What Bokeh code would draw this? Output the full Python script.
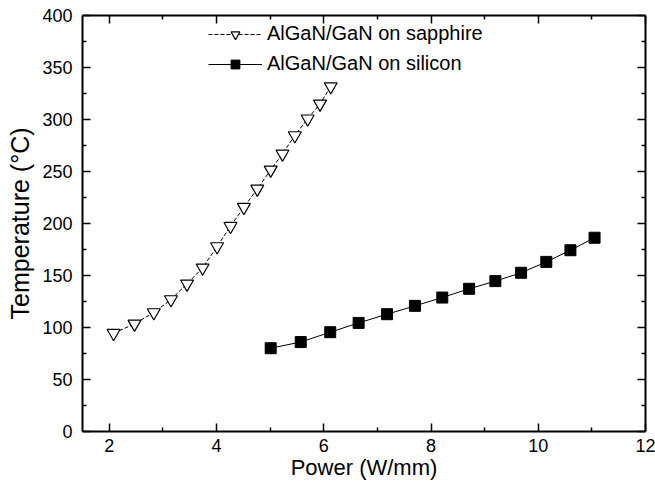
from bokeh.plotting import figure
from bokeh.models import LinearAxis, Range1d, Legend, LegendItem, FixedTicker
from bokeh.embed import file_html
from bokeh.resources import INLINE

# Data
sapphire_power = [2.08, 2.47, 2.83, 3.15, 3.45, 3.74, 4.01, 4.26, 4.51, 4.76, 5.01, 5.23, 5.46, 5.70, 5.93, 6.13]
sapphire_temp = [94.5, 103.5, 114.4, 126.9, 142.0, 157.4, 177.9, 197.4, 215.7, 233.3, 251.6, 267.0, 284.6, 300.7, 315.0, 331.7]

silicon_power = [5.01, 5.57, 6.12, 6.65, 7.18, 7.70, 8.21, 8.71, 9.20, 9.68, 10.15, 10.60, 11.05]
silicon_temp = [80.1, 86.0, 95.5, 104.4, 112.8, 120.8, 128.8, 137.2, 144.6, 152.6, 163.1, 174.3, 186.3]

x_ticks = [2, 4, 6, 8, 10, 12]
y_ticks = [0, 50, 100, 150, 200, 250, 300, 350, 400]

legend_labels = ["AlGaN/GaN on sapphire", "AlGaN/GaN on silicon"]

FONT = "Liberation Sans"

p = figure(width=655, height=485, output_backend="svg", toolbar_location=None,
           x_range=Range1d(1.5, 12), y_range=Range1d(0, 400),
           x_axis_label="Power (W/mm)", y_axis_label="Temperature (°C)",
           min_border_left=82, min_border_right=10, min_border_top=15, min_border_bottom=54)
p.outline_line_color = None
p.xgrid.visible = False
p.ygrid.visible = False
p.background_fill_color = "white"
p.border_fill_color = "white"

def style_axis(ax, ticks, show_labels=True):
    step = ticks[1] - ticks[0]
    ax.ticker = FixedTicker(ticks=ticks, minor_ticks=[t + step / 2 for t in ticks[:-1]] + [ticks[0] - step / 2])
    ax.major_tick_in = 8
    ax.major_tick_out = 0
    ax.minor_tick_in = 4
    ax.minor_tick_out = 0
    ax.axis_line_width = 2
    ax.major_tick_line_width = 1.5
    ax.minor_tick_line_width = 1.5
    ax.axis_line_color = "black"
    ax.major_tick_line_color = "black"
    ax.minor_tick_line_color = "black"
    ax.major_label_text_font = FONT
    ax.major_label_text_font_size = "18px"
    ax.major_label_text_color = "black" if show_labels else None
    ax.axis_label_text_font = FONT
    ax.axis_label_text_font_style = "normal"
    ax.axis_label_text_color = "black"

style_axis(p.xaxis[0], x_ticks)
style_axis(p.yaxis[0], y_ticks)
p.xaxis[0].axis_label_text_font_size = "22px"
p.yaxis[0].axis_label_text_font_size = "25px"
p.xaxis[0].major_label_standoff = 7
p.yaxis[0].major_label_standoff = 10
p.xaxis[0].axis_label_standoff = 0
p.yaxis[0].axis_label_standoff = 5

top = LinearAxis()
style_axis(top, x_ticks, show_labels=False)
top.major_label_text_font_size = "0px"
top.major_label_standoff = 0
p.add_layout(top, "above")
right = LinearAxis()
style_axis(right, y_ticks, show_labels=False)
right.major_label_text_font_size = "0px"
right.major_label_standoff = 0
p.add_layout(right, "right")

l1 = p.line(sapphire_power, sapphire_temp, line_color="black", line_width=1, line_dash="4 2")
m1 = p.scatter(sapphire_power, sapphire_temp, marker="inverted_triangle", size=13,
               fill_color="white", line_color="black", line_width=1.2)
l2 = p.line(silicon_power, silicon_temp, line_color="black", line_width=1)
m2 = p.scatter(silicon_power, silicon_temp, marker="square", size=11,
               fill_color="black", line_color="black")

legend = Legend(items=[LegendItem(label=legend_labels[0], renderers=[l1, m1]),
                       LegendItem(label=legend_labels[1], renderers=[l2, m2])],
                location=(126, 356), orientation="vertical")
legend.background_fill_alpha = 0
legend.border_line_color = None
legend.padding = 0
legend.margin = 0
legend.spacing = 7
legend.glyph_width = 54
legend.glyph_height = 22
legend.label_height = 22
legend.label_standoff = 5
legend.label_text_font = FONT
legend.label_text_font_size = "20px"
legend.label_text_color = "black"
p.add_layout(legend, "center")

open("out.html", "w").write(file_html(p, INLINE))
